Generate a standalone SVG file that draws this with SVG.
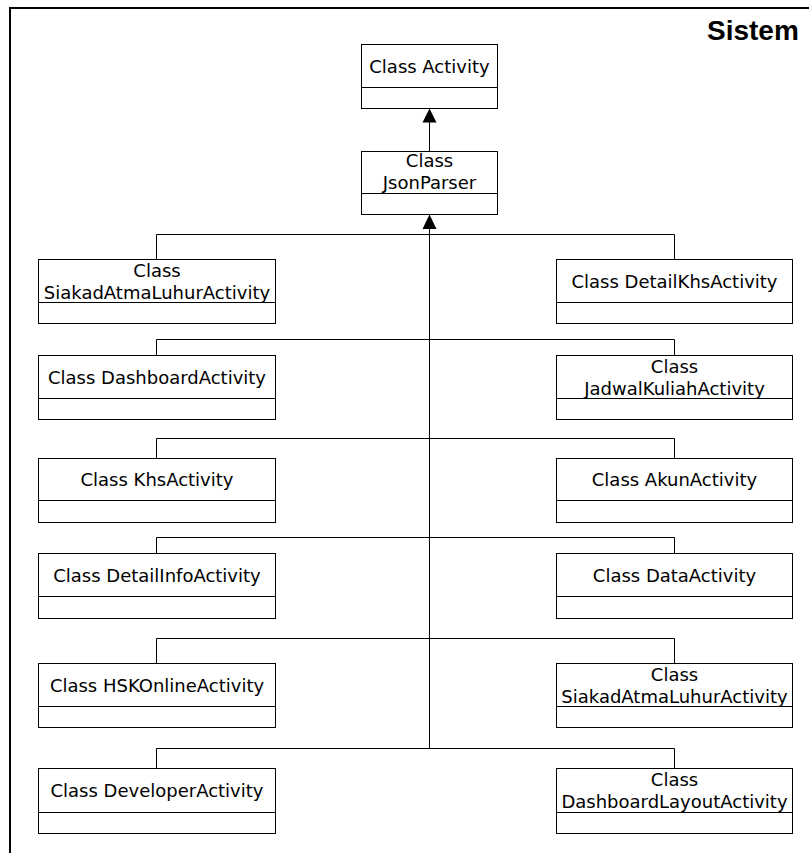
<svg xmlns="http://www.w3.org/2000/svg" width="809" height="853" viewBox="0 0 809 853">
<style>
.box{fill:#fff;stroke:#000;stroke-width:1}
.div{stroke:#000;stroke-width:1}
.lbl{font-family:"DejaVu Sans",Verdana,sans-serif;font-size:18px;fill:#000;text-anchor:middle}
.con{fill:none;stroke:#000;stroke-width:1}
.head{fill:#000;stroke:none}
.title{font-family:"Liberation Sans",Arial,sans-serif;font-size:28px;font-weight:bold;fill:#000}
</style>
<rect x="0" y="0" width="809" height="853" fill="#fff"/>
<g id="frame">
<rect x="10" y="8" width="830" height="880" fill="none" stroke="#000" stroke-width="2"/>
<text class="title" x="707" y="40">Sistem</text>
</g>
<g id="connectors">
<line class="con" x1="429.5" y1="151.5" x2="429.5" y2="122"/>
<polygon class="head" points="429.5,108.5 422.5,122.5 436.5,122.5"/>
<line class="con" x1="429.5" y1="228.5" x2="429.5" y2="748.5"/>
<polygon class="head" points="429.5,214.5 422.5,229 436.5,229"/>
<path class="con" d="M156.5,259.5 V234.5 H674.5 V259.5"/>
<path class="con" d="M156.5,355.5 V339.5 H674.5 V355.5"/>
<path class="con" d="M156.5,458.5 V438.5 H674.5 V458.5"/>
<path class="con" d="M156.5,553.5 V537.5 H674.5 V553.5"/>
<path class="con" d="M156.5,663.5 V638.5 H674.5 V663.5"/>
<path class="con" d="M156.5,768.5 V748.5 H674.5 V768.5"/>
</g>
<g id="activity">
<rect class="box" x="361.5" y="44.5" width="136" height="64"/>
<line class="div" x1="361.5" y1="87.5" x2="497.5" y2="87.5"/>
<text class="lbl" x="429.5" y="72.5">Class Activity</text>
</g>
<g id="jsonparser">
<rect class="box" x="361.5" y="151.5" width="136" height="63"/>
<line class="div" x1="361.5" y1="193.5" x2="497.5" y2="193.5"/>
<text class="lbl" x="429.5" y="167">Class</text>
<text class="lbl" x="429.5" y="189">JsonParser</text>
</g>
<g id="siakad1">
<rect class="box" x="38.5" y="259.5" width="237" height="64"/>
<line class="div" x1="38.5" y1="302.5" x2="275.5" y2="302.5"/>
<text class="lbl" x="157" y="276.5">Class</text>
<text class="lbl" x="157" y="298.5">SiakadAtmaLuhurActivity</text>
</g>
<g id="detailkhs">
<rect class="box" x="556.5" y="259.5" width="236" height="64"/>
<line class="div" x1="556.5" y1="302.5" x2="792.5" y2="302.5"/>
<text class="lbl" x="674.5" y="287.5">Class DetailKhsActivity</text>
</g>
<g id="dashboard">
<rect class="box" x="38.5" y="355.5" width="237" height="64"/>
<line class="div" x1="38.5" y1="398.5" x2="275.5" y2="398.5"/>
<text class="lbl" x="157" y="383.5">Class DashboardActivity</text>
</g>
<g id="jadwal">
<rect class="box" x="556.5" y="355.5" width="236" height="64"/>
<line class="div" x1="556.5" y1="398.5" x2="792.5" y2="398.5"/>
<text class="lbl" x="674.5" y="372.5">Class</text>
<text class="lbl" x="674.5" y="394.5">JadwalKuliahActivity</text>
</g>
<g id="khs">
<rect class="box" x="38.5" y="458.5" width="237" height="64"/>
<line class="div" x1="38.5" y1="500.5" x2="275.5" y2="500.5"/>
<text class="lbl" x="157" y="486">Class KhsActivity</text>
</g>
<g id="akun">
<rect class="box" x="556.5" y="458.5" width="236" height="64"/>
<line class="div" x1="556.5" y1="500.5" x2="792.5" y2="500.5"/>
<text class="lbl" x="674.5" y="486">Class AkunActivity</text>
</g>
<g id="detailinfo">
<rect class="box" x="38.5" y="553.5" width="237" height="65"/>
<line class="div" x1="38.5" y1="596.5" x2="275.5" y2="596.5"/>
<text class="lbl" x="157" y="581.5">Class DetailInfoActivity</text>
</g>
<g id="data">
<rect class="box" x="556.5" y="553.5" width="236" height="65"/>
<line class="div" x1="556.5" y1="596.5" x2="792.5" y2="596.5"/>
<text class="lbl" x="674.5" y="581.5">Class DataActivity</text>
</g>
<g id="hskonline">
<rect class="box" x="38.5" y="663.5" width="237" height="64"/>
<line class="div" x1="38.5" y1="706.5" x2="275.5" y2="706.5"/>
<text class="lbl" x="157" y="691.5">Class HSKOnlineActivity</text>
</g>
<g id="siakad2">
<rect class="box" x="556.5" y="663.5" width="236" height="64"/>
<line class="div" x1="556.5" y1="706.5" x2="792.5" y2="706.5"/>
<text class="lbl" x="674.5" y="680.5">Class</text>
<text class="lbl" x="674.5" y="702.5">SiakadAtmaLuhurActivity</text>
</g>
<g id="developer">
<rect class="box" x="38.5" y="768.5" width="237" height="65"/>
<line class="div" x1="38.5" y1="812.5" x2="275.5" y2="812.5"/>
<text class="lbl" x="157" y="797">Class DeveloperActivity</text>
</g>
<g id="dashboardlayout">
<rect class="box" x="556.5" y="768.5" width="236" height="65"/>
<line class="div" x1="556.5" y1="812.5" x2="792.5" y2="812.5"/>
<text class="lbl" x="674.5" y="786">Class</text>
<text class="lbl" x="674.5" y="808">DashboardLayoutActivity</text>
</g>
</svg>
